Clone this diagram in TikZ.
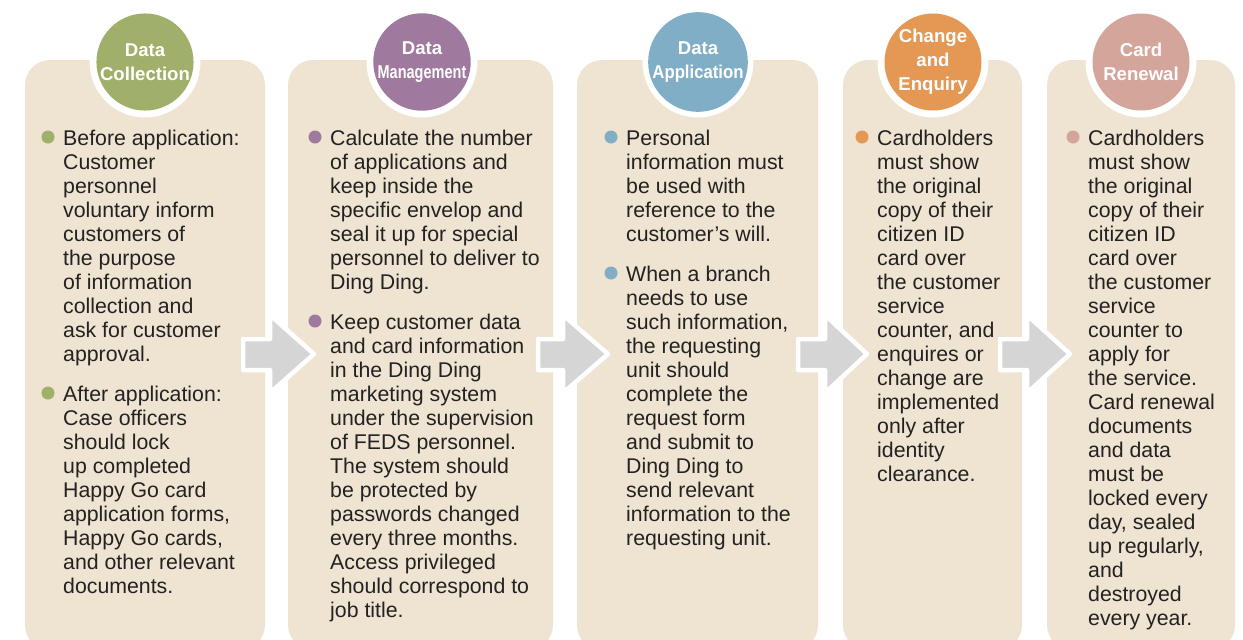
\documentclass[tikz,border=0pt]{standalone}
\usepackage{fontspec}
\setmainfont{Liberation Sans}
\usepackage{graphicx}
\definecolor{panelfill}{RGB}{239,227,209}
\definecolor{cgreen}{RGB}{160,176,106}
\definecolor{cpurple}{RGB}{160,122,158}
\definecolor{cblue}{RGB}{128,174,198}
\definecolor{corange}{RGB}{229,152,84}
\definecolor{cpink}{RGB}{212,165,154}
\definecolor{arrowgray}{RGB}{213,213,213}
\definecolor{textcol}{RGB}{34,34,34}
\newcommand\flowarrow[3]{%
  \filldraw[flowarrowstyle] (#1,339) -- (#2,339) -- (#2,315) -- (#3,354) -- (#2,393) -- (#2,370) -- (#1,370) -- cycle;}
\begin{document}
\begin{tikzpicture}[x=1pt,y=-1pt,
  panel/.style={rectangle, fill=panelfill, rounded corners=25pt, inner sep=0, minimum height=590pt},
  ring/.style={circle, fill=white, minimum size=111pt, inner sep=0},
  disc/.style={circle, minimum size=97pt, inner sep=0, text=white, align=center,
    font=\bfseries\fontsize{18.6}{24}\selectfont},
  body/.style={anchor=base west, align=left, inner sep=0, text=textcol,
    font=\fontsize{21.3}{24}\selectfont},
  dot/.style={circle, minimum size=13pt, inner sep=0},
  flowarrowstyle/.style={fill=arrowgray, draw=white, line width=4.5pt, line join=round}]
\useasboundingbox (0,0) rectangle (1243,640);
\clip (0,0) rectangle (1243,640);
% panels
\node[panel, minimum width=240pt] (p1) at (145,355) {};
\node[panel, minimum width=265pt] (p2) at (420.5,355) {};
\node[panel, minimum width=241pt] (p3) at (697.5,355) {};
\node[panel, minimum width=179pt] (p4) at (932.5,355) {};
\node[panel, minimum width=188pt] (p5) at (1141,355) {};
% heading circles
\node[ring] (r1) at (145,62) {};
\node[ring] (r2) at (422,62) {};
\node[ring] (r3) at (698,62) {};
\node[ring] (r4) at (933,62) {};
\node[ring] (r5) at (1141,62) {};
\node[disc, fill=cgreen] (c1) at (r1) {Data\\Collection};
\node[disc, fill=cpurple] (c2) at (r2) {Data\\\scalebox{0.78}[1]{Management}};
\node[disc, fill=cblue] (c3) at (r3) {Data\\\scalebox{0.9}[1]{Application}};
\node[disc, fill=corange] (c4) at (r4) {Change\\and\\Enquiry};
\node[disc, fill=cpink] (c5) at (r5) {Card\\Renewal};
% arrows
\flowarrow{243}{270}{314}
\flowarrow{538}{563}{608}
\flowarrow{798}{825}{867}
\flowarrow{1000}{1027}{1070}
% panel 1 (anchor = baseline of last line)
\node[dot, fill=cgreen] (d11) at (48,137) {};
\node[body] (t11) at (63,361) {Before application:\\Customer\\personnel\\voluntary inform\\customers of\\the purpose\\of information\\collection and\\ask for customer\\approval.};
\node[dot, fill=cgreen] (d12) at (48,393) {};
\node[body] (t12) at (63,593) {After application:\\Case officers\\should lock\\up completed\\Happy Go card\\application forms,\\Happy Go cards,\\and other relevant\\documents.};
% panel 2
\node[dot, fill=cpurple] (d21) at (315,137) {};
\node[body] (t21) at (330,289) {Calculate the number\\of applications and\\keep inside the\\specific envelop and\\seal it up for special\\personnel to deliver to\\Ding Ding.};
\node[dot, fill=cpurple] (d22) at (315,321) {};
\node[body] (t22) at (330,617) {Keep customer data\\and card information\\in the Ding Ding\\marketing system\\under the supervision\\of FEDS personnel.\\The system should\\be protected by\\passwords changed\\every three months.\\Access privileged\\should correspond to\\job title.};
% panel 3
\node[dot, fill=cblue] (d31) at (611,137) {};
\node[body] (t31) at (626,241) {Personal\\information must\\be used with\\reference to the\\customer’s will.};
\node[dot, fill=cblue] (d32) at (611,273) {};
\node[body] (t32) at (626,545) {When a branch\\needs to use\\such information,\\the requesting\\unit should\\complete the\\request form\\and submit to\\Ding Ding to\\send relevant\\information to the\\requesting unit.};
% panel 4
\node[dot, fill=corange] (d41) at (862,137) {};
\node[body] (t41) at (877,481) {Cardholders\\must show\\the original\\copy of their\\citizen ID\\card over\\the customer\\service\\counter, and\\enquires or\\change are\\implemented\\only after\\identity\\clearance.};
% panel 5
\node[dot, fill=cpink] (d51) at (1073,137) {};
\node[body] (t51) at (1088,625) {Cardholders\\must show\\the original\\copy of their\\citizen ID\\card over\\the customer\\service\\counter to\\apply for\\the service.\\Card renewal\\documents\\and data\\must be\\locked every\\day, sealed\\up regularly,\\and\\destroyed\\every year.};
\end{tikzpicture}
\end{document}
